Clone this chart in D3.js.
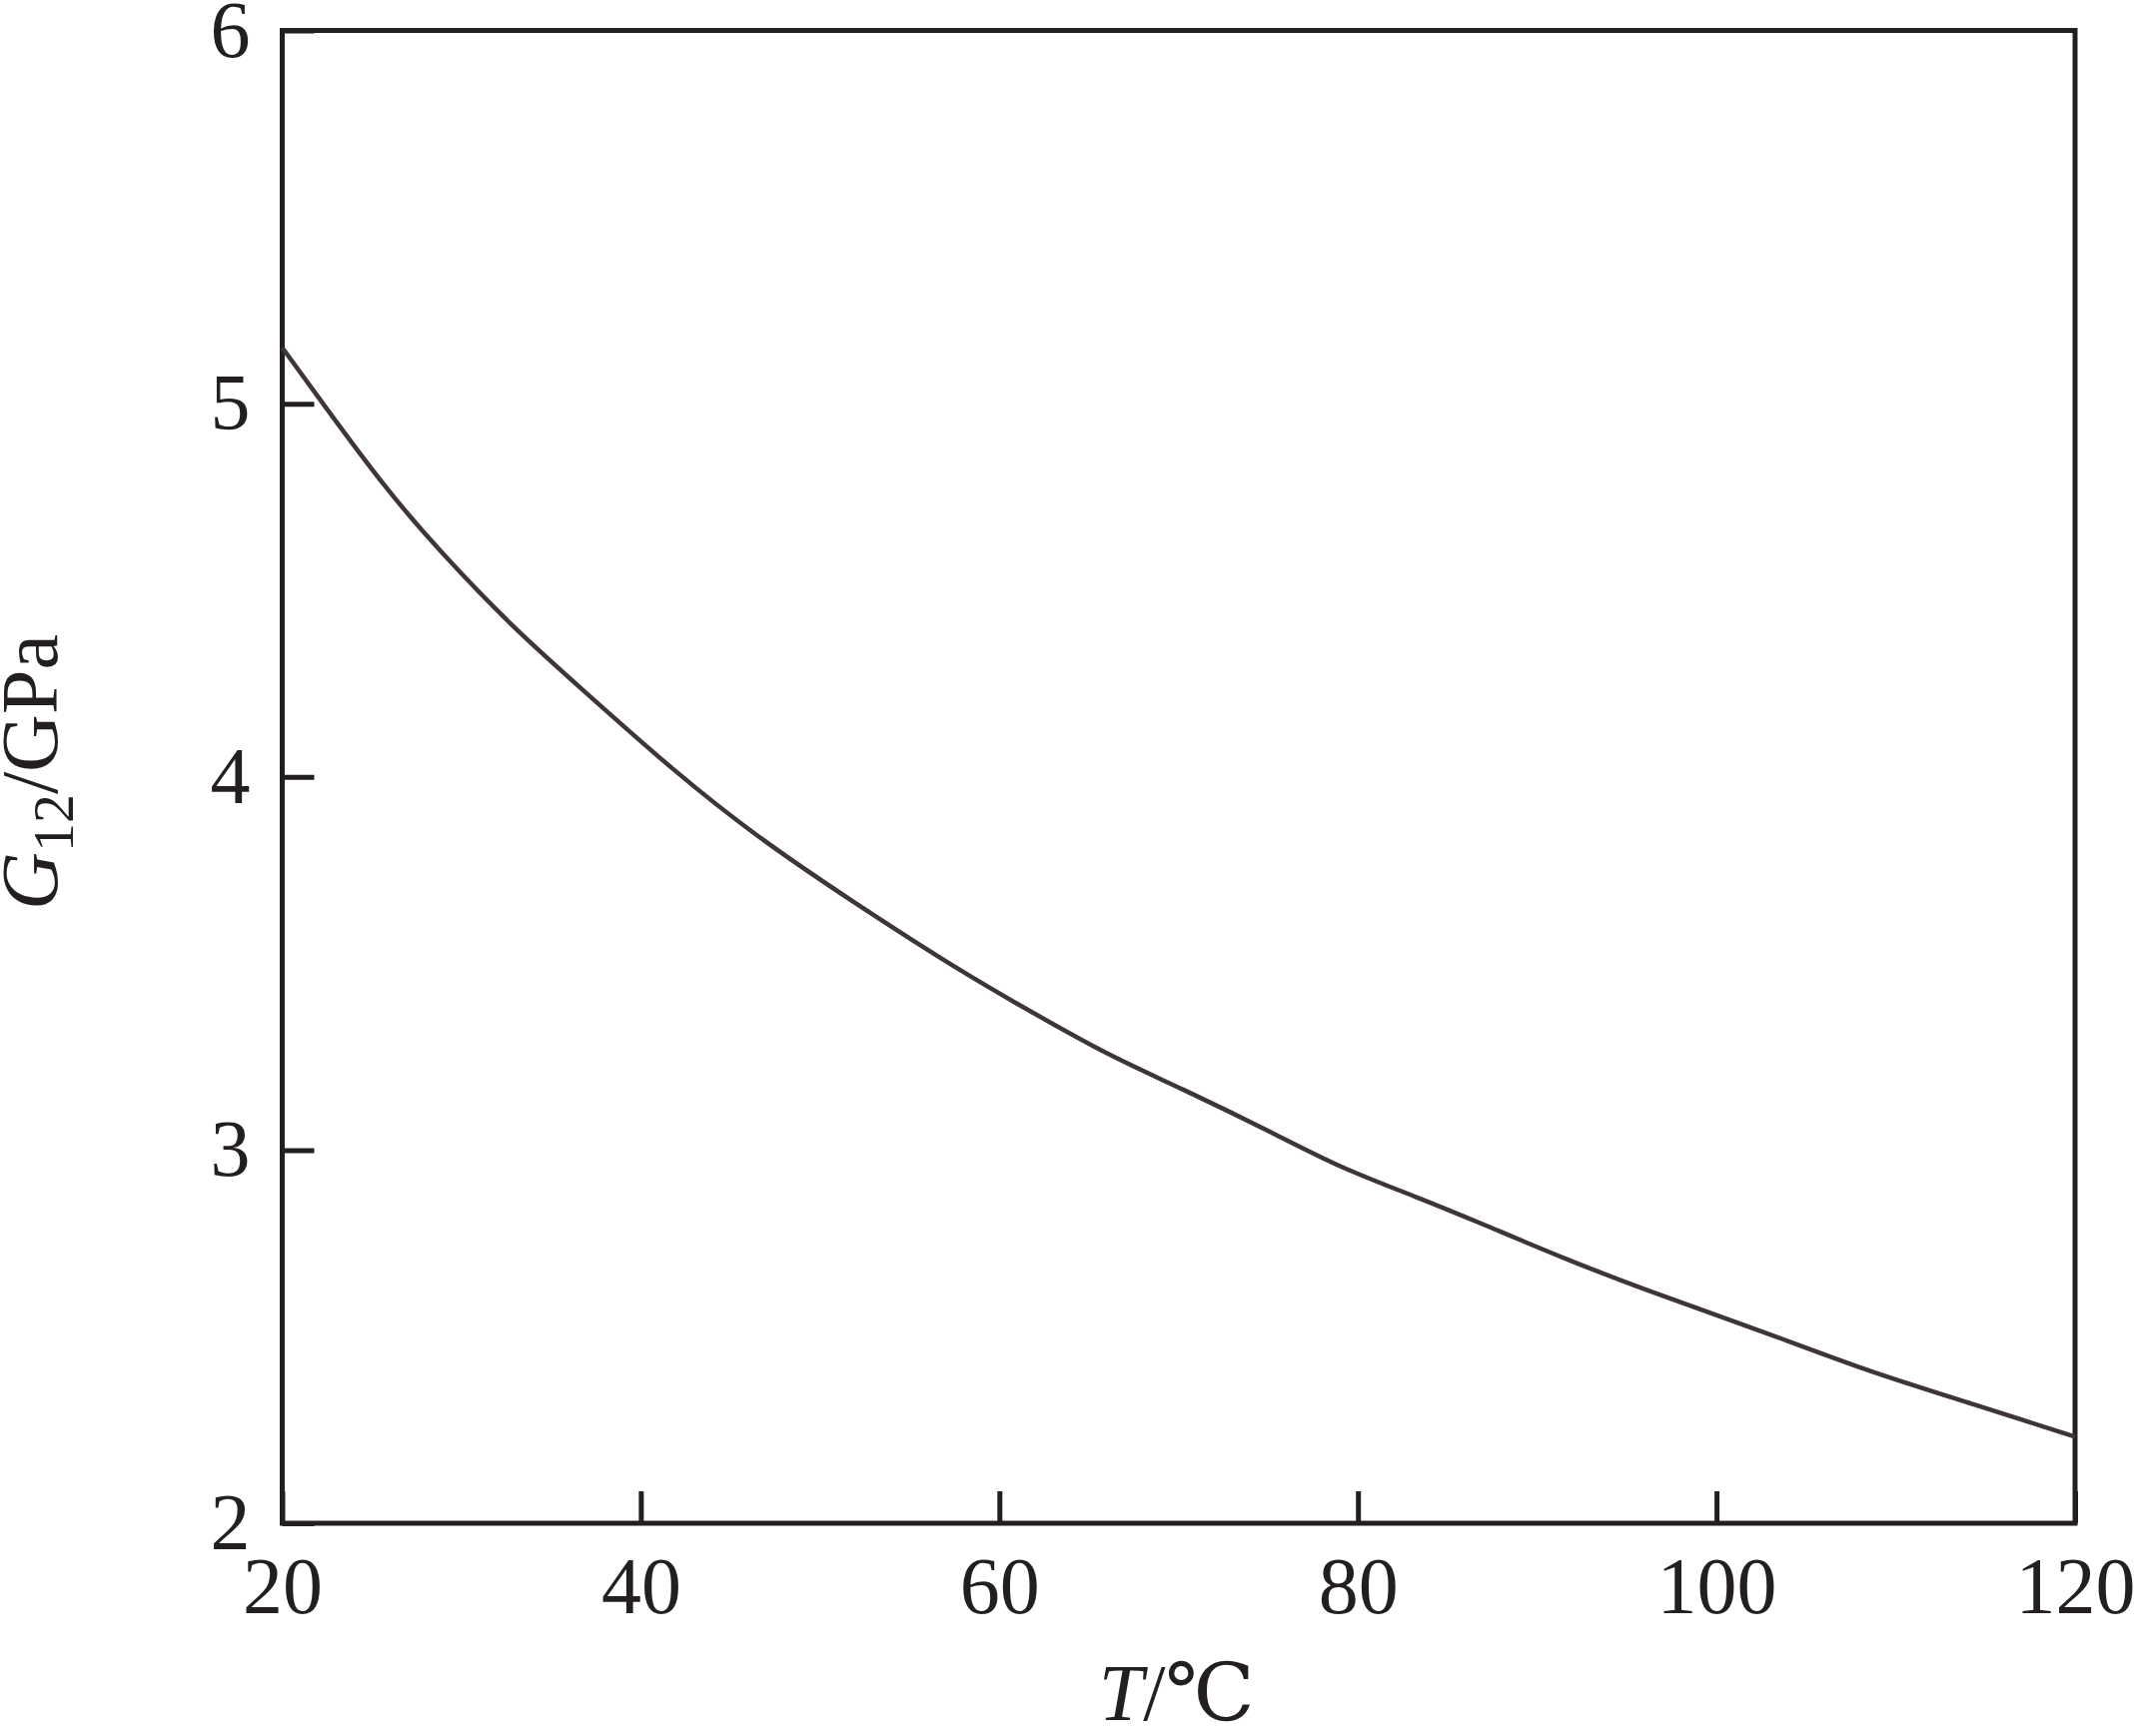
<!DOCTYPE html>
<script src="https://d3js.org/d3.v7.min.js"></script>
<style>
body { margin: 0; background: #fff; }
svg text { font-family: "Liberation Serif", "DejaVu Serif", serif; fill: #231f20; }
</style>
<div id="chart"></div>
<script>
// temperature (°C) and shear modulus G12 (GPa)
var temps = [20, 22.3, 25.8, 28.8, 32.8, 36.6, 41.9, 46.4, 51.6, 57.9, 61.5, 66.1, 70, 75.6, 78.9, 83.4, 86.7, 91.7, 96.6, 103.1, 108.5, 114.2, 120];
var g12 = [5.15, 4.998, 4.77, 4.604, 4.403, 4.24, 4.013, 3.842, 3.672, 3.477, 3.378, 3.253, 3.169, 3.038, 2.955, 2.872, 2.807, 2.705, 2.615, 2.505, 2.406, 2.321, 2.232];
var xTicks = [20, 40, 60, 80, 100, 120];
var yTicks = [2, 3, 4, 5, 6];

var W = 2138, H = 1738;
var margin = {top: 30.5, right: 61, bottom: 213, left: 282.5};
var width = W - margin.left - margin.right,
    height = H - margin.top - margin.bottom;

var svg = d3.select("#chart").append("svg").attr("width", W).attr("height", H)
  .append("g").attr("transform", "translate(" + margin.left + "," + margin.top + ")");

var x = d3.scaleLinear().domain([20, 120]).range([0, width]);
var y = d3.scaleLinear().domain([2, 6]).range([height, 0]);

// x axis, ticks pointing inward
var xAxis = svg.append("g").attr("transform", "translate(0," + height + ")")
  .call(d3.axisBottom(x).tickValues(xTicks).tickFormat(d3.format("d")).tickSizeInner(-32).tickSizeOuter(0).tickPadding(0));
xAxis.select(".domain").remove();
xAxis.selectAll("line").attr("stroke", "#231f20").attr("stroke-width", 5);
xAxis.selectAll("text").attr("font-size", 80).attr("dy", null).attr("y", 90).style("font-family", "Liberation Serif");

// y axis
var yAxis = svg.append("g")
  .call(d3.axisLeft(y).tickValues(yTicks).tickFormat(d3.format("d")).tickSizeInner(-32).tickSizeOuter(0).tickPadding(32));
yAxis.select(".domain").remove();
yAxis.selectAll("line").attr("stroke", "#231f20").attr("stroke-width", 5);
yAxis.selectAll("text").attr("font-size", 80).attr("dy", "0.32em").attr("x", -32).style("font-family", "Liberation Serif");

// frame
svg.append("rect").attr("width", width).attr("height", height)
  .attr("fill", "none").attr("stroke", "#231f20").attr("stroke-width", 5);

// curve
var pts = temps.map(function(t, i) { return [t, g12[i]]; });
var line = d3.line().x(function(d) { return x(d[0]); }).y(function(d) { return y(d[1]); }).curve(d3.curveBasis);
svg.append("path").datum(pts).attr("d", line)
  .attr("fill", "none").attr("stroke", "#3e3636").attr("stroke-width", 4.5);

// axis titles
var xt = svg.append("text").attr("x", width / 2 - 2).attr("y", height + 197)
  .attr("text-anchor", "middle").attr("font-size", 80);
xt.append("tspan").attr("font-style", "italic").text("T");
xt.append("tspan").text("/℃");

var yt = svg.append("text").attr("transform", "translate(" + (57 - margin.left) + "," + (773 - margin.top) + ") rotate(-90)")
  .attr("text-anchor", "middle").attr("font-size", 80);
yt.append("tspan").attr("font-style", "italic").text("G");
yt.append("tspan").attr("font-size", 58).attr("dy", 16).text("12");
yt.append("tspan").attr("dy", -16).text("/GPa");
</script>
